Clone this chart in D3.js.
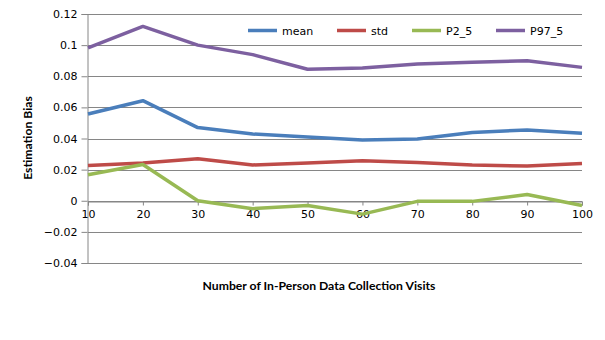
<!DOCTYPE html>
<html><head><meta charset="utf-8">
<script src="https://cdn.jsdelivr.net/npm/d3@7"></script>
<style>body{margin:0;background:#fff}svg{display:block}</style>
</head><body><svg id="c" width="605" height="340"></svg>
<script>
const visits = [10,20,30,40,50,60,70,80,90,100];
const mean  = [0.0557,0.0643,0.0470,0.0429,0.0410,0.0390,0.0397,0.0439,0.0455,0.0433];
const std   = [0.0227,0.0242,0.0270,0.0230,0.0242,0.0257,0.0246,0.0230,0.0223,0.0240];
const p2_5  = [0.0167,0.0233,0.0000,-0.0051,-0.0030,-0.0086,-0.0004,-0.0004,0.0040,-0.0030];
const p97_5 = [0.0983,0.1120,0.1000,0.0939,0.0845,0.0853,0.0879,0.0890,0.0900,0.0857];
const seriesNames = ["mean","std","P2_5","P97_5"];
const seriesColors = ["#4a7ebb","#be4b48","#98b954","#7d60a0"];
const yTicks = [-0.04,-0.02,0,0.02,0.04,0.06,0.08,0.1,0.12];
const xTitle = "Number of In-Person Data Collection Visits";
const yTitle = "Estimation Bias";

const allSeries = [mean,std,p2_5,p97_5];
const svg = d3.select("#c");
const x = d3.scaleLinear().domain([10,100]).range([88,582]);
const y = d3.scaleLinear().domain([-0.04,0.12]).range([263,14]);
const tickFont = "'DejaVu Sans', Verdana, sans-serif";
const grid = "#868686";

// gridlines
svg.append("g").selectAll("line").data(yTicks).join("line")
  .attr("x1",x(10)).attr("x2",x(100))
  .attr("y1",d=>Math.round(y(d))+0.5).attr("y2",d=>Math.round(y(d))+0.5)
  .attr("stroke",grid).attr("stroke-width",1);

// y axis
const yAx = svg.append("g").attr("transform",`translate(${x(10)-0.5},0)`)
  .call(d3.axisLeft(y).tickValues(yTicks).tickSize(6).tickPadding(4).tickFormat(d=>d3.format("")(+d.toFixed(2))));
yAx.select(".domain").attr("stroke",grid);
yAx.selectAll(".tick line").attr("stroke",grid);
yAx.selectAll("text").attr("font-family",tickFont).attr("font-size",11).attr("fill","#000");

// x axis at zero
const xAx = svg.append("g").attr("transform",`translate(0,${Math.round(y(0))+0.5})`)
  .call(d3.axisBottom(x).tickValues(visits).tickSize(4).tickPadding(5).tickFormat(d3.format("d")));
xAx.select(".domain").attr("stroke",grid);
xAx.selectAll(".tick line").attr("stroke",grid);
xAx.selectAll("text").attr("font-family",tickFont).attr("font-size",11).attr("fill","#000");

// lines
const line = d3.line().x((d,i)=>x(visits[i])).y(d=>y(d)).curve(d3.curveLinear);
svg.append("g").selectAll("path").data(allSeries).join("path")
  .attr("d",line).attr("fill","none")
  .attr("stroke",(d,i)=>seriesColors[i]).attr("stroke-width",3.5)
  .attr("stroke-linejoin","round");

// legend
const legX = [248,337,412,496];
const lg = svg.append("g").selectAll("g").data(seriesNames).join("g")
  .attr("transform",(d,i)=>`translate(${legX[i]},30.5)`);
lg.append("line").attr("x1",0).attr("x2",29).attr("y1",0).attr("y2",0)
  .attr("stroke",(d,i)=>seriesColors[i]).attr("stroke-width",3.5);
lg.append("text").attr("x",34).attr("y",4).text(d=>d)
  .attr("font-family",tickFont).attr("font-size",11).attr("fill","#000");

// titles
svg.append("text").attr("x",319).attr("y",290).attr("text-anchor","middle")
  .attr("font-family","Lato, 'Open Sans', sans-serif").attr("font-weight","bold").attr("font-size",12.2)
  .text(xTitle);
svg.append("text").attr("transform","translate(32,138) rotate(-90)").attr("text-anchor","middle")
  .attr("font-family","Lato, 'Open Sans', sans-serif").attr("font-weight","bold").attr("font-size",12.2)
  .text(yTitle);
</script></body></html>
